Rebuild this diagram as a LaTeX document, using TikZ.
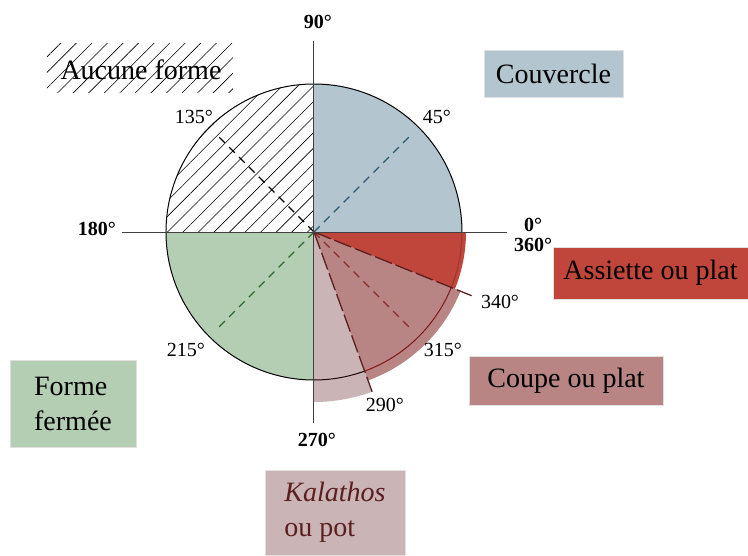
\documentclass[tikz,border=0pt]{standalone}
\usepackage{fontspec}
\setmainfont{Liberation Serif}
\usetikzlibrary{patterns.meta}
\definecolor{couv}{HTML}{B3C5CF}
\definecolor{assiette}{HTML}{C0453B}
\definecolor{coupe}{HTML}{B88584}
\definecolor{kalathos}{HTML}{CAB4B5}
\definecolor{fermee}{HTML}{B4CEB4}
\definecolor{kalatext}{HTML}{5C1F1F}
\definecolor{couvdash}{HTML}{2C5A70}
\definecolor{fermeedash}{HTML}{2E6A2E}
\definecolor{coupedash}{HTML}{8A2C2C}

\begin{document}
\begin{tikzpicture}[x=1pt,y=1pt,
                    legend box/.style={draw=black!12,line width=0.4pt,inner sep=0pt,font=\fontsize{28}{35}\selectfont},
                    axis label/.style={font=\fontsize{20}{22}\selectfont\bfseries},
                    angle label/.style={font=\fontsize{20}{22}\selectfont},
                    hatch/.style={pattern={Lines[angle=45,distance=11pt,line width=0.6pt]}},
                    mid line/.style={dash pattern=on 8pt off 6pt,line width=1.3pt},
                    edge line/.style={dash pattern=on 18pt off 4pt,line width=1.3pt,color=kalatext}]

  \useasboundingbox (-314,-323) rectangle (434,232);
  \coordinate (O) at (0,0);

  \fill[couv] (O) -- (0:148) arc[start angle=0,end angle=90,radius=148] -- cycle;
  \fill[hatch] (O) -- (90:148) arc[start angle=90,end angle=180,radius=148] -- cycle;
  \fill[fermee] (O) -- (180:148) arc[start angle=180,end angle=270,radius=148] -- cycle;
  \fill[kalathos] (O) -- (270:170) arc[start angle=270,end angle=290,radius=170] -- cycle;
  \fill[coupe] (O) -- (290:158) arc[start angle=290,end angle=338,radius=158] -- cycle;
  \fill[assiette] (O) -- (338:152) arc[start angle=338,end angle=360,radius=152] -- cycle;

  \draw[line width=1pt] (0:148) arc[start angle=0,end angle=270,radius=148];
  \draw[line width=1pt,color=black!70!kalatext] (270:148) arc[start angle=270,end angle=290,radius=148];
  \draw[line width=1pt,color=kalatext!80!red] (290:148) arc[start angle=290,end angle=338,radius=148];
  \draw[line width=1pt,color=assiette!80!black] (338:148) arc[start angle=338,end angle=360,radius=148];

  \coordinate (d45) at (45:139);
  \coordinate (d135) at (135:139);
  \coordinate (d225) at (225:139);
  \coordinate (d315) at (315:139);
  \coordinate (d290) at (290:170);
  \coordinate (d340) at (338:170);

  \draw[mid line,color=couvdash] (O) -- (d45);
  \draw[mid line,color=black] (O) -- (d135);
  \draw[mid line,color=fermeedash] (O) -- (d225);
  \draw[mid line,color=coupedash] (O) -- (d315);
  \draw[edge line] (O) -- (d290);
  \draw[edge line] (O) -- (d340);

  \coordinate (west) at (-192,0);
  \coordinate (east) at (193,0);
  \coordinate (north) at (0,191);
  \coordinate (south) at (0,-191);
  \draw[line width=1pt,black!75] (west) -- (east);
  \draw[line width=1pt,black!75] (north) -- (south);

  \node[axis label] (a90) at (4,210) {90°};
  \node[axis label] (a180) at (-217,3) {180°};
  \node[axis label] (a0) at (219,7) {0°};
  \node[axis label] (a360) at (219,-13) {360°};
  \node[axis label] (a270) at (3,-208) {270°};

  \node[angle label] (l45) at (123,115) {45°};
  \node[angle label] (l135) at (-120,115) {135°};
  \node[angle label] (l215) at (-128,-118) {215°};
  \node[angle label] (l315) at (129,-118) {315°};
  \node[angle label] (l340) at (186,-70) {340°};
  \node[angle label] (l290) at (71,-173) {290°};

  \fill[hatch] (-267,140) rectangle (-81,189);
  \node[font=\fontsize{28}{35}\selectfont] (aucune) at (-173,162) {Aucune forme};
  \node[legend box,fill=couv,minimum width=139pt,minimum height=47pt] (couvercle) at (239.5,158.5) {Couvercle};
  \node[legend box,fill=assiette,minimum width=195pt,minimum height=52pt] (assiette) at (336.5,-41) {Assiette ou plat};
  \node[legend box,fill=coupe,minimum width=194pt,minimum height=49pt] (coupe) at (252,-148.5) {Coupe ou plat};
  \node[legend box,fill=fermee,minimum width=126pt,minimum height=87pt,align=left] (fermee) at (-241,-171.5) {Forme\\fermée};
  \node[legend box,fill=kalathos,minimum width=140pt,minimum height=85pt,align=left,text=kalatext] (kalathos) at (21,-280.5) {\textit{Kalathos}\\ou pot};
\end{tikzpicture}
\end{document}
